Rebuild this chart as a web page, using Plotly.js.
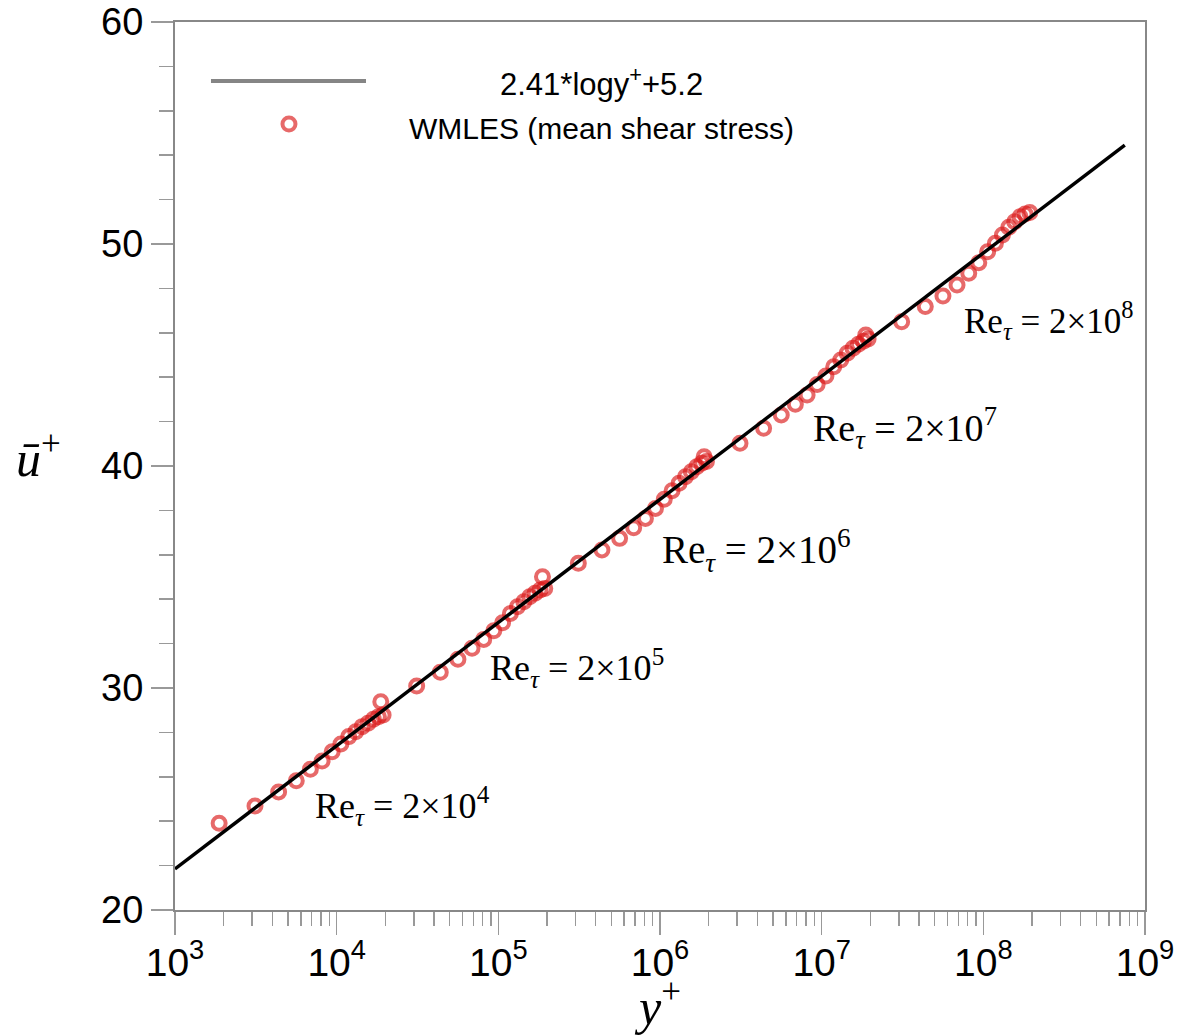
<!DOCTYPE html>
<html>
<head>
<meta charset="utf-8">
<script src="https://cdn.plot.ly/plotly-3.0.1.min.js"></script>
<style>html,body{margin:0;padding:0;background:#fff;}#chart{width:1177px;height:1035px;}</style>
</head>
<body>
<div id="chart"></div>
<script>
// ---- data ----
const g1_y = [1875, 3125, 4375, 5625, 6875, 8125, 9375, 10625, 11875, 13125, 14375, 15625, 16875, 18125, 19375];
const g1_u = [23.91, 24.68, 25.32, 25.82, 26.34, 26.71, 27.13, 27.48, 27.81, 28.03, 28.26, 28.41, 28.59, 28.71, 28.78];
const g2_y = [18750, 31250, 43750, 56250, 68750, 81250, 93750, 106250, 118750, 131250, 143750, 156250, 168750, 181250, 193750];
const g2_u = [29.38, 30.09, 30.71, 31.29, 31.79, 32.19, 32.58, 32.94, 33.36, 33.66, 33.89, 34.11, 34.27, 34.41, 34.48];
const g3_y = [187500, 312500, 437500, 562500, 687500, 812500, 937500, 1062500, 1187500, 1312500, 1437500, 1562500, 1687500, 1812500, 1937500];
const g3_u = [35.01, 35.62, 36.22, 36.74, 37.22, 37.64, 38.09, 38.50, 38.89, 39.22, 39.52, 39.74, 39.97, 40.12, 40.20];
const g4_y = [1875000, 3125000, 4375000, 5625000, 6875000, 8125000, 9375000, 10625000, 11875000, 13125000, 14375000, 15625000, 16875000, 18125000, 19375000];
const g4_u = [40.42, 41.02, 41.70, 42.30, 42.78, 43.20, 43.67, 44.05, 44.47, 44.77, 45.08, 45.30, 45.48, 45.62, 45.72];
const g5_y = [18750000, 31250000, 43750000, 56250000, 68750000, 81250000, 93750000, 106250000, 118750000, 131250000, 143750000, 156250000, 168750000, 181250000, 193750000];
const g5_u = [45.90, 46.50, 47.18, 47.66, 48.15, 48.68, 49.16, 49.65, 50.03, 50.41, 50.75, 51.00, 51.23, 51.35, 51.42];

// log law line (end points as drawn)
const law_y = [1000, 750000000];
const law_u = [21.85, 54.45];

const xMajor = [1e3, 1e4, 1e5, 1e6, 1e7, 1e8, 1e9];
const xMajorText = ['10<sup>3</sup>', '10<sup>4</sup>', '10<sup>5</sup>', '10<sup>6</sup>', '10<sup>7</sup>', '10<sup>8</sup>', '10<sup>9</sup>'];
const xMinorMult = [2, 3, 4, 5, 6, 7, 8, 9];
const yMajor = [20, 30, 40, 50, 60];

const reLabels = ['2×10<sup>4</sup>', '2×10<sup>5</sup>', '2×10<sup>6</sup>', '2×10<sup>7</sup>', '2×10<sup>8</sup>'];

const lawName = '2.41*logy<sup>+</sup>+5.2';
const wmName = 'WMLES (mean shear stress)';

// ---- build ----
const allY = [].concat(g1_y, g2_y, g3_y, g4_y, g5_y);
const allU = [].concat(g1_u, g2_u, g3_u, g4_u, g5_u);
const xMinor = [];
for (let i = 0; i < xMajor.length - 1; i++) xMinorMult.forEach(m => xMinor.push(xMajor[i] * m));

const markerColor = 'rgba(218,24,24,0.65)';
const serif = 'Liberation Serif, Times New Roman, serif';
const sans = 'Liberation Sans, Arial, sans-serif';
const narrow = 'Liberation Sans Narrow, Arial Narrow, Liberation Sans, sans-serif';

const traces = [
  {x: allY, y: allU, type: 'scatter', mode: 'markers', name: wmName,
   marker: {symbol: 'circle-open', size: 13, color: markerColor, line: {width: 4, color: markerColor}}},
  {x: law_y, y: law_u, type: 'scatter', mode: 'lines', name: lawName,
   line: {color: '#000', width: 3.5}}
];

// paper coordinates for label positions
const reX = [0.1423, 0.3227, 0.5, 0.6557, 0.8113];
const reYp = [0.1171, 0.2725, 0.4043, 0.5428, 0.6644];
const reSize = [36, 36, 39, 38, 35];

const annotations = reLabels.map((t, i) => ({
  xref: 'paper', yref: 'paper', x: reX[i], y: reYp[i], xanchor: 'left', yanchor: 'middle',
  showarrow: false, text: 'Re<sub><i>τ</i></sub> = ' + t,
  font: {family: serif, size: reSize[i], color: '#000'}
}));
annotations.push(
  {xref: 'paper', yref: 'paper', x: 0.4402, y: 0.9325, xanchor: 'center', yanchor: 'middle', showarrow: false,
   text: lawName, font: {family: narrow, size: 31, color: '#000'}},
  {xref: 'paper', yref: 'paper', x: 0.4402, y: 0.8806, xanchor: 'center', yanchor: 'middle', showarrow: false,
   text: wmName, font: {family: narrow, size: 30, color: '#000'}},
  {xref: 'paper', yref: 'paper', x: -0.141, y: 0.512, xanchor: 'center', yanchor: 'middle', showarrow: false,
   text: '<i>ū</i><sup>+</sup>', font: {family: serif, size: 50, color: '#000'}}
);

const shapes = [
  {type: 'line', xref: 'paper', yref: 'paper', x0: 0.0371, x1: 0.1969, y0: 0.9336, y1: 0.9336,
   line: {color: '#858585', width: 4}},
  {type: 'circle', xref: 'paper', yref: 'paper', xsizemode: 'pixel', ysizemode: 'pixel',
   xanchor: 0.1175, yanchor: 0.8851, x0: -6.5, x1: 6.5, y0: -6.5, y1: 6.5,
   line: {color: markerColor, width: 4}, fillcolor: 'rgba(0,0,0,0)'}
];

const layout = {
  width: 1177, height: 1035,
  margin: {l: 175, r: 32, t: 22, b: 125},
  paper_bgcolor: '#fff', plot_bgcolor: '#fff',
  showlegend: false,
  font: {family: sans, color: '#000'},
  xaxis: {
    type: 'log', range: [3, 9], tickmode: 'array', tickvals: xMajor, ticktext: xMajorText,
    ticks: 'outside', ticklen: 23, tickwidth: 1.5, tickcolor: '#999',
    ticklabelstandoff: -6,
    minor: {tickmode: 'array', tickvals: xMinor, ticks: 'outside', ticklen: 14, tickwidth: 1.5, tickcolor: '#999'},
    showline: true, linecolor: '#888', linewidth: 2, mirror: true,
    showgrid: false, zeroline: false,
    tickfont: {family: sans, size: 39, color: '#000'},
    title: {text: '<i>y</i><sup>+</sup>', font: {family: serif, size: 50, color: '#000'}, standoff: 3}
  },
  yaxis: {
    range: [20, 60], tickmode: 'array', tickvals: yMajor,
    ticks: 'outside', ticklen: 22, tickwidth: 1.5, tickcolor: '#999',
    minor: {dtick: 2, ticks: 'outside', ticklen: 14, tickwidth: 1.5, tickcolor: '#999'},
    showline: true, linecolor: '#888', linewidth: 2, mirror: true,
    showgrid: false, zeroline: false,
    tickfont: {family: sans, size: 38, color: '#000'}
  },
  annotations: annotations,
  shapes: shapes
};

Plotly.newPlot('chart', traces, layout, {displayModeBar: false, staticPlot: true});
</script>
</body>
</html>
